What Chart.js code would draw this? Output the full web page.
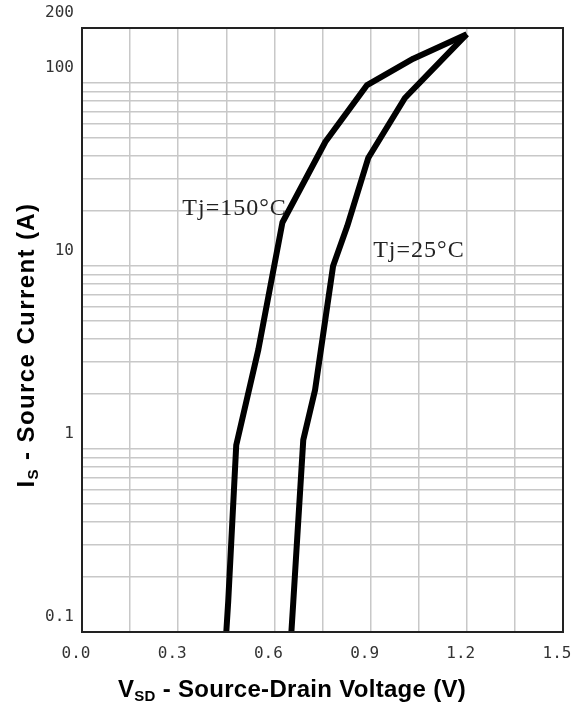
<!DOCTYPE html>
<html><head><meta charset="utf-8">
<script src="https://cdn.jsdelivr.net/npm/chart.js@4"></script>
<style>html,body{margin:0;padding:0;background:#fff}#wrap{width:580px;height:711px;position:relative}</style>
</head><body><div id="wrap"><canvas id="c" width="580" height="711"></canvas></div>
<script>
// ---- data ----
const seriesNames = ['Tj=150\u00B0C', 'Tj=25\u00B0C'];
const tj150V = [0.450, 0.456, 0.481, 0.550, 0.625, 0.759, 0.889, 1.033, 1.200];
const tj150I = [0.1, 0.147, 1.05, 3.5, 17.3, 47.8, 97.5, 136, 185];
const tj25V  = [0.653, 0.659, 0.690, 0.727, 0.783, 0.827, 0.893, 1.007, 1.200];
const tj25I  = [0.1, 0.147, 1.12, 2.11, 10, 16.5, 39.1, 82.9, 185];
const xTickLabels = ['0.0', '0.3', '0.6', '0.9', '1.2', '1.5'];
const yTickLabels = ['0.1', '1', '10', '100', '200'];
const yGridValues = [0.1,0.2,0.3,0.4,0.5,0.6,0.7,0.8,0.9,
                     1,2,3,4,5,6,7,8,9,
                     10,20,30,40,50,60,70,80,90,
                     100,200];
// annotation anchors (data coordinates)
const labelAnchors = [{x: 0.313, y: 18.9}, {x: 0.908, y: 11.2}];

const toPts = (xs, ys) => xs.map((v, i) => ({x: v, y: ys[i]}));

const gridColor = '#c8c8c8';
const tickFont = {family: 'DejaVu Sans Mono', size: 16};

const overlay = {
  id: 'overlay',
  afterDraw(chart) {
    const ctx = chart.ctx, a = chart.chartArea;
    ctx.save();
    // frame
    ctx.strokeStyle = '#222';
    ctx.lineWidth = 2;
    ctx.strokeRect(a.left, a.top, a.right - a.left, a.bottom - a.top);
    // curve labels
    ctx.fillStyle = '#222';
    ctx.font = '24px "Liberation Serif"';
    try { ctx.letterSpacing = '1px'; } catch (e) {}
    ctx.textBaseline = 'alphabetic';
    ctx.textAlign = 'left';
    const xs = chart.scales.x, ys = chart.scales.y;
    seriesNames.forEach((n, i) => {
      ctx.fillText(n, xs.getPixelForValue(labelAnchors[i].x), ys.getPixelForValue(labelAnchors[i].y));
    });
    try { ctx.letterSpacing = '0px'; } catch (e) {}
    // axis titles with subscripts
    const drawParts = (parts, cx, cy, rot, spacing) => {
      ctx.save();
      ctx.translate(cx, cy);
      if (rot) ctx.rotate(rot);
      try { ctx.letterSpacing = spacing + 'px'; } catch (e) {}
      const big = 'bold 24px "Liberation Sans"', small = 'bold 15px "Liberation Sans"';
      let w = 0;
      parts.forEach(p => { ctx.font = p.sub ? small : big; w += ctx.measureText(p.t).width; });
      let x = -w / 2;
      ctx.fillStyle = '#000';
      ctx.textBaseline = 'alphabetic';
      ctx.textAlign = 'left';
      parts.forEach(p => {
        ctx.font = p.sub ? small : big;
        ctx.fillText(p.t, x, p.sub ? 13 : 9);
        x += ctx.measureText(p.t).width;
      });
      ctx.restore();
    };
    drawParts([{t: 'I'}, {t: 'S', sub: true}, {t: ' - Source Current (A)'}], 25, 345, -Math.PI / 2, 1.4);
    drawParts([{t: 'V'}, {t: 'SD', sub: true}, {t: ' - Source-Drain Voltage (V)'}], 292, 688, 0, 0.3);
    ctx.restore();
  }
};

new Chart(document.getElementById('c'), {
  type: 'line',
  data: {
    datasets: [
      {label: seriesNames[0], data: toPts(tj150V, tj150I), borderColor: '#000', borderWidth: 6,
       pointRadius: 0, tension: 0, borderJoinStyle: 'round', fill: false},
      {label: seriesNames[1], data: toPts(tj25V, tj25I), borderColor: '#000', borderWidth: 6,
       pointRadius: 0, tension: 0, borderJoinStyle: 'round', fill: false}
    ]
  },
  options: {
    responsive: false,
    animation: false,
    devicePixelRatio: 1,
    layout: {padding: {top: 28, right: 17, left: 0, bottom: 0}},
    plugins: {legend: {display: false}, tooltip: {enabled: false}},
    scales: {
      x: {
        type: 'linear', min: 0, max: 1.5,
        ticks: {
          stepSize: 0.15, autoSkip: false, maxRotation: 0, minRotation: 0,
          padding: 12, labelOffset: -6, font: tickFont, color: '#333',
          callback: (v, i) => (i % 2 === 0 ? xTickLabels[i / 2] : '')
        },
        grid: {color: gridColor, lineWidth: 1.5, drawTicks: false},
        border: {display: false},
        afterFit(s) { s.height = 79; s.paddingLeft = 0; s.paddingRight = 0; }
      },
      y: {
        type: 'logarithmic', min: 0.1, max: 200,
        afterBuildTicks(s) { s.ticks = yGridValues.map(v => ({value: v})); },
        ticks: {
          autoSkip: false, padding: 8, labelOffset: -15, font: tickFont, color: '#333',
          callback: (v) => {
            const m = yTickLabels.find(l => Math.abs(Math.log10(parseFloat(l)) - Math.log10(v)) < 1e-6);
            return m || '';
          }
        },
        grid: {color: gridColor, lineWidth: 1.5, drawTicks: false},
        border: {display: false},
        afterFit(s) { s.width = 82; s.paddingTop = 0; s.paddingBottom = 0; }
      }
    }
  },
  plugins: [overlay]
});
</script>
</body></html>
